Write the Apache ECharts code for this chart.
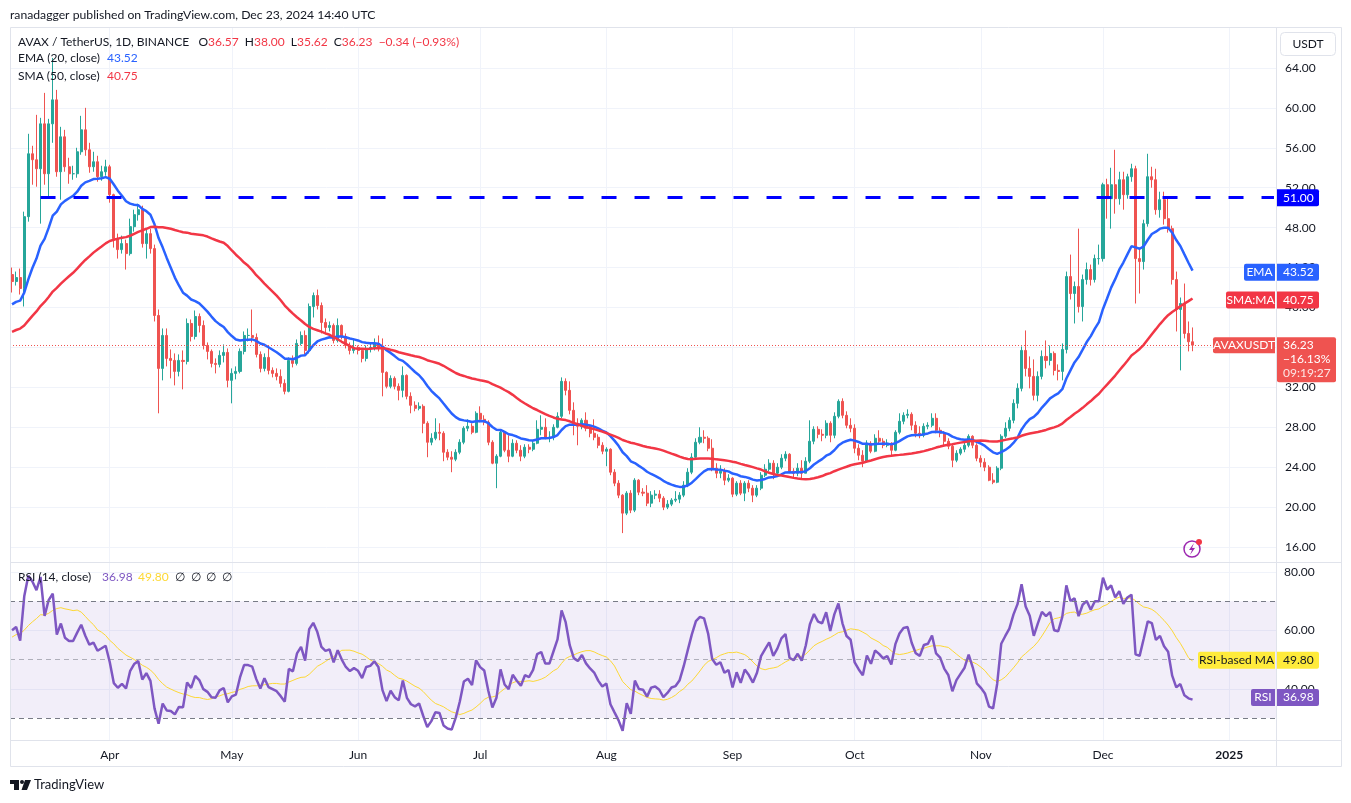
<!DOCTYPE html>
<html lang="en">
<head>
<meta charset="UTF-8">
<title>AVAX / TetherUS, 1D, BINANCE</title>
<script src="https://cdn.jsdelivr.net/npm/echarts@latest/dist/echarts.min.js"></script>
<style>
  html, body { margin: 0; padding: 0; background: #fff; }
  #chart { width: 1351px; height: 803px; }
</style>
</head>
<body>
<div id="chart"></div>
<script>
  /* ---------- data (daily, 2024-03-08 .. 2024-12-23) ---------- */
  // closes before the visible range, only used to warm up EMA / SMA / RSI
  const warmupCloses = [
    35.0, 36.8, 38.5, 39.5, 38.0, 36.5, 35.5, 35.8, 35.2, 34.5, 35.0,
    34.1, 34.7, 33.6, 31.3, 30.5, 31.7, 31.5, 33.0, 33.5,
    33.8, 34.9, 36.3, 34.7, 35.5, 35.9, 35.2, 34.6, 35.3, 36.1,
    35.8, 37.5, 38.8, 38.2, 39.3, 40.9, 40.1, 42.2, 42.0, 41.2,
    39.6, 40.2, 39.0, 39.2, 37.5, 37.2, 36.4, 37.6, 38.3, 39.0,
    39.6, 40.2, 40.0, 40.6, 42.4, 41.8, 41.0, 39.0, 41.6, 43.3
  ];
  const firstOpen = 43.3;

  const closes = [
    // Mar
    42.6, 43.0, 41.9, 49.1, 55.4, 54.8, 53.9, 58.4, 53.4, 58.4, 60.8, 53.6, 57.1, 54.1, 53.4, 53.4, 55.6, 57.8, 55.8, 54.1, 54.6, 53.1, 53.6, 54.1,
    // Apr
    51.3, 46.9, 45.8, 46.4, 45.4, 48.1, 49.3, 49.8, 46.4, 47.4, 45.9, 39.2, 33.9, 37.2, 34.9, 34.7, 33.6, 34.7, 34.6, 38.4, 37.1, 39.1, 38.2, 36.2, 35.6, 34.4, 34.3, 35.2, 35.5, 32.7,
    // May
    33.4, 33.6, 35.6, 37.2, 37.2, 37.0, 35.3, 33.9, 35.0, 33.7, 33.4, 33.1, 32.4, 31.6, 34.7, 34.4, 36.4, 37.2, 35.7, 40.1, 41.2, 40.2, 38.5, 38.0, 38.2, 36.7, 38.2, 37.1, 36.2, 35.7, 36.0,
    // Jun
    35.7, 34.9, 35.9, 36.0, 36.4, 35.9, 33.5, 32.1, 32.9, 32.1, 31.7, 33.2, 31.1, 30.2, 29.9, 30.1, 28.4, 26.5, 26.9, 27.5, 27.4, 25.5, 25.0, 24.8, 25.5, 26.5, 27.9, 28.1, 27.5, 29.4,
    // Jul
    28.8, 28.5, 26.5, 24.4, 25.1, 27.5, 25.7, 25.1, 26.4, 25.7, 25.1, 26.0, 25.8, 26.4, 27.8, 28.0, 27.0, 27.0, 28.0, 29.1, 32.6, 31.7, 29.7, 28.4, 28.1, 28.7, 27.9, 27.4, 27.0, 26.2, 25.6,
    // Aug
    25.8, 23.5, 22.4, 21.2, 19.4, 21.4, 19.7, 22.7, 21.5, 21.4, 20.4, 21.2, 21.3, 20.9, 20.0, 20.3, 20.7, 20.8, 21.2, 22.2, 23.5, 25.0, 26.5, 27.0, 26.9, 25.9, 23.9, 23.4, 23.6, 22.7, 22.9,
    // Sep
    21.3, 22.4, 21.4, 22.4, 21.9, 21.2, 21.9, 23.2, 23.8, 24.4, 23.4, 24.0, 24.9, 25.3, 23.6, 23.4, 23.9, 23.4, 24.6, 26.6, 27.8, 27.3, 27.2, 28.4, 27.2, 29.1, 30.6, 29.2, 28.2, 27.9,
    // Oct
    25.9, 25.2, 24.6, 26.4, 25.6, 26.9, 26.6, 26.2, 26.4, 25.7, 27.5, 28.6, 29.2, 29.3, 28.2, 27.4, 27.2, 28.1, 28.2, 28.9, 27.7, 27.4, 26.6, 26.1, 24.7, 25.4, 25.8, 26.2, 27.1, 26.2, 24.9,
    // Nov
    24.5, 24.0, 22.7, 22.5, 23.9, 27.1, 27.9, 28.7, 30.4, 31.9, 35.7, 33.9, 33.1, 31.2, 33.1, 35.1, 34.7, 35.4, 33.7, 33.6, 35.8, 43.1, 41.4, 42.1, 40.1, 42.8, 43.8, 42.8, 44.9, 44.9,
    // Dec
    52.3, 50.9, 52.3, 50.9, 52.8, 51.3, 53.1, 53.9, 44.9, 44.6, 48.4, 53.1, 52.8, 49.8, 50.8, 48.9, 47.9, 42.8, 39.8, 40.4, 37.4, 36.57, 36.23
  ];

  const highs = [
    44.0, 43.6, 43.9, 49.6, 57.4, 56.2, 59.3, 59.0, 61.5, 58.9, 65.0, 61.8, 58.1, 57.8, 55.0, 54.2, 56.0, 59.2, 60.0, 56.5, 55.6, 55.2, 54.2, 54.8,
    54.3, 51.4, 47.4, 47.2, 46.8, 48.9, 49.8, 50.4, 50.2, 47.9, 47.9, 46.3, 39.8, 37.9, 37.9, 35.8, 35.4, 35.3, 35.7, 38.9, 38.8, 39.7, 39.4, 38.7, 36.5, 35.8, 34.9, 35.7, 36.3, 35.9,
    33.9, 34.1, 35.9, 37.6, 37.9, 39.8, 37.4, 35.6, 35.4, 36.2, 34.0, 33.9, 33.8, 32.8, 35.0, 35.2, 36.8, 37.6, 37.7, 40.4, 41.5, 41.8, 40.5, 38.9, 38.6, 38.4, 38.9, 38.3, 37.4, 36.5, 36.9,
    36.2, 35.9, 36.2, 36.4, 36.9, 37.2, 36.9, 33.6, 33.2, 33.1, 32.4, 34.1, 33.3, 31.5, 30.6, 30.5, 30.3, 28.6, 27.4, 28.9, 28.4, 27.6, 25.8, 25.6, 25.8, 26.8, 28.1, 28.8, 28.4, 29.6,
    30.1, 29.2, 28.7, 26.7, 25.3, 27.7, 27.6, 27.2, 26.8, 26.7, 26.2, 26.3, 26.3, 26.7, 28.7, 29.2, 28.9, 27.6, 28.3, 29.5, 33.0, 32.9, 32.6, 30.5, 28.9, 28.9, 29.5, 28.2, 28.8, 27.3, 26.5,
    26.0, 25.9, 23.8, 22.7, 21.3, 21.6, 21.7, 22.9, 22.8, 21.9, 22.2, 21.6, 21.7, 21.7, 21.1, 20.7, 20.9, 21.6, 21.5, 22.6, 23.9, 25.4, 26.9, 28.0, 27.7, 27.1, 26.8, 24.4, 24.2, 23.9, 23.3,
    23.0, 22.6, 22.7, 22.6, 22.7, 22.2, 22.2, 23.5, 24.3, 24.8, 24.7, 24.4, 25.3, 25.6, 25.4, 23.9, 24.4, 24.7, 25.0, 28.7, 28.1, 28.1, 27.8, 28.7, 28.6, 29.5, 30.8, 30.9, 29.6, 28.9,
    28.3, 26.3, 25.7, 26.7, 26.6, 27.3, 27.7, 26.9, 26.8, 26.5, 27.7, 29.4, 29.5, 29.8, 29.5, 28.6, 28.1, 28.4, 28.5, 29.4, 29.4, 28.0, 27.6, 26.9, 26.4, 25.7, 26.0, 26.5, 27.3, 27.2, 26.4,
    25.2, 24.9, 24.2, 23.4, 24.1, 27.3, 28.5, 29.0, 30.8, 32.4, 36.1, 37.7, 35.1, 34.8, 33.6, 35.7, 36.7, 36.2, 35.6, 34.3, 36.4, 43.6, 45.3, 42.6, 47.9, 43.3, 44.5, 44.3, 45.3, 46.3,
    52.5, 52.9, 54.0, 55.8, 53.6, 53.6, 53.4, 54.4, 54.2, 46.0, 48.8, 55.4, 54.1, 53.9, 51.6, 51.6, 50.9, 48.2, 43.6, 41.0, 42.4, 38.6, 38.0
  ];

  const lows = [
    41.5, 42.2, 41.3, 40.1, 48.6, 52.3, 52.1, 48.4, 52.3, 50.9, 56.5, 53.1, 50.8, 53.6, 52.4, 52.8, 53.0, 55.3, 55.2, 53.5, 53.6, 52.6, 52.7, 53.2,
    50.5, 46.0, 44.9, 45.4, 43.8, 45.2, 47.6, 48.7, 46.0, 44.9, 45.4, 38.6, 29.4, 32.7, 34.1, 32.9, 32.2, 33.1, 31.8, 34.3, 36.6, 36.8, 37.5, 35.8, 34.8, 34.0, 33.4, 34.0, 34.5, 32.0,
    30.4, 32.8, 33.4, 35.3, 36.6, 36.5, 35.0, 33.5, 33.6, 33.3, 33.0, 32.7, 32.0, 31.3, 31.5, 34.0, 34.2, 36.2, 35.3, 35.4, 39.0, 39.8, 37.4, 37.3, 37.6, 36.4, 36.5, 36.8, 35.9, 35.3, 35.4,
    35.3, 34.5, 34.6, 35.5, 35.7, 35.6, 31.1, 31.9, 31.9, 31.8, 30.7, 31.0, 30.8, 29.4, 29.6, 29.7, 27.4, 25.0, 26.2, 26.7, 26.7, 24.6, 24.7, 23.5, 24.6, 25.3, 26.3, 27.6, 27.3, 27.4,
    28.5, 28.2, 26.2, 24.3, 21.9, 25.0, 25.5, 24.5, 25.0, 25.4, 24.6, 24.9, 25.4, 25.6, 26.3, 27.2, 26.8, 26.5, 26.7, 27.9, 28.9, 31.2, 29.3, 27.2, 26.2, 27.8, 27.6, 27.0, 26.7, 25.9, 25.3,
    24.1, 23.2, 22.1, 20.9, 17.4, 19.2, 19.4, 19.5, 21.2, 21.1, 20.1, 20.0, 20.8, 20.5, 19.7, 19.8, 20.1, 20.5, 20.4, 21.0, 22.0, 23.3, 24.8, 26.3, 26.4, 25.6, 23.6, 22.9, 22.9, 22.2, 22.5,
    21.0, 21.1, 21.2, 20.6, 21.5, 20.5, 21.0, 21.7, 23.0, 23.6, 22.8, 23.2, 23.8, 24.6, 23.4, 22.9, 23.1, 22.9, 23.4, 24.4, 26.3, 26.9, 26.6, 26.9, 26.5, 26.9, 28.9, 28.9, 27.9, 27.5,
    25.4, 24.7, 24.0, 24.5, 25.4, 25.5, 26.3, 25.9, 26.0, 25.1, 25.6, 27.3, 28.3, 28.9, 27.7, 27.0, 26.9, 27.0, 27.8, 28.0, 27.4, 27.0, 26.2, 25.8, 24.0, 24.5, 25.2, 25.5, 26.0, 25.9, 24.6,
    24.0, 23.6, 22.6, 22.3, 22.4, 23.7, 26.9, 27.6, 28.4, 29.9, 31.6, 33.1, 31.9, 30.7, 30.6, 32.8, 33.9, 34.2, 33.2, 32.7, 32.7, 35.4, 40.8, 38.4, 39.5, 38.6, 42.3, 42.2, 42.5, 44.3,
    44.6, 48.9, 47.9, 49.4, 50.3, 49.8, 50.9, 52.6, 40.4, 41.4, 43.8, 48.1, 52.0, 49.3, 49.0, 48.3, 47.5, 42.3, 37.6, 33.7, 36.9, 35.6, 35.62
  ];

  const resistance = 51.0;           // horizontal level drawn by the author
  const resistanceFrom = '2024-03-15';

  const monthTicks = ['2024-04-01', '2024-05-01', '2024-06-01', '2024-07-01', '2024-08-01',
                      '2024-09-01', '2024-10-01', '2024-11-01', '2024-12-01', '2025-01-01'];
  const monthNames = ['Apr', 'May', 'Jun', 'Jul', 'Aug', 'Sep', 'Oct', 'Nov', 'Dec', '2025'];

  // values printed in the legend / axis tags
  const lastEma = 43.52, lastSma = 40.75, lastRsi = 36.98, lastRsiMa = 49.80;

  /* ---------- build categories (calendar days, with empty space to the right) ---------- */
  const dayCount = 311;
  const firstDay = Date.UTC(2024, 2, 8);
  const dates = [];
  for (let i = 0; i < dayCount; i++) {
    dates.push(new Date(firstDay + i * 86400000).toISOString().slice(0, 10));
  }
  const tickName = {};
  monthTicks.forEach((d, i) => { tickName[d] = monthNames[i]; });
  const isTick = (idx, val) => tickName[val] !== undefined;

  /* ---------- indicators ---------- */
  function ema(src, n) {
    const k = 2 / (n + 1);
    const out = [];
    let prev = src[0];
    src.forEach((v, i) => { prev = i === 0 ? v : v * k + prev * (1 - k); out.push(prev); });
    return out;
  }
  function sma(src, n) {
    const out = [];
    for (let i = 0; i < src.length; i++) {
      if (i < n - 1 || src[i - n + 1] == null) { out.push(null); continue; }
      let s = 0;
      for (let j = i - n + 1; j <= i; j++) s += src[j];
      out.push(s / n);
    }
    return out;
  }
  function rsi(src, n) {
    const out = [null];
    let ag = 0, al = 0;
    for (let i = 1; i < src.length; i++) {
      const ch = src[i] - src[i - 1];
      const g = Math.max(ch, 0), l = Math.max(-ch, 0);
      if (i <= n) {
        ag += g / n; al += l / n;
        out.push(i === n ? 100 - 100 / (1 + ag / al) : null);
      } else {
        ag = (ag * (n - 1) + g) / n;
        al = (al * (n - 1) + l) / n;
        out.push(al === 0 ? 100 : 100 - 100 / (1 + ag / al));
      }
    }
    return out;
  }

  const allCloses = warmupCloses.concat(closes);
  const skip = warmupCloses.length;
  const round = v => (v == null ? null : +v.toFixed(3));
  const emaLine = ema(allCloses, 20).slice(skip).map(round);
  const smaLine = sma(allCloses, 50).slice(skip).map(round);
  const rsiAll = rsi(allCloses, 14);
  const rsiLine = rsiAll.slice(skip).map(round);
  const rsiMaLine = sma(rsiAll, 14).slice(skip).map(round);

  const candles = closes.map((c, i) => [i === 0 ? firstOpen : closes[i - 1], c, lows[i], highs[i]]);

  /* ---------- chart ---------- */
  const FONT = 'Lato, "Noto Sans", sans-serif';
  const TEXT = '#131722';
  const UP = '#26a69a', DOWN = '#ef5350';
  const AXIS_X = 1276;

  const chart = echarts.init(document.getElementById('chart'));

  const option = {
    animation: false,
    backgroundColor: '#ffffff',
    textStyle: { fontFamily: FONT },
    grid: [
      { left: 10, right: 1351 - AXIS_X, top: 28, height: 559 },        // price pane (12..68)
      { left: 10, right: 1351 - AXIS_X, top: 513.6, height: 233.6 },   // RSI pane (20..100)
      { left: 10, right: 1351 - AXIS_X, top: 27, height: 713 }         // time scale + vertical grid
    ],
    xAxis: [
      { type: 'category', gridIndex: 0, data: dates, show: false },
      { type: 'category', gridIndex: 1, data: dates, show: false },
      {
        type: 'category', gridIndex: 2, data: dates,
        axisLine: { show: false }, axisTick: { show: false },
        axisLabel: {
          interval: isTick, margin: 9, color: TEXT, fontSize: 12, fontFamily: FONT,
          formatter: v => (tickName[v] === '2025' ? '{y|2025}' : (tickName[v] || '')),
          rich: { y: { fontWeight: 'bold', fontSize: 12, color: TEXT, fontFamily: FONT } }
        },
        splitLine: { show: true, interval: isTick, alignWithLabel: true, lineStyle: { color: '#f0f3fa', width: 1 } }
      }
    ],
    yAxis: [
      {
        type: 'value', gridIndex: 0, position: 'right', min: 12, max: 68, interval: 4,
        axisLine: { show: false }, axisTick: { show: false },
        axisLabel: {
          color: TEXT, fontSize: 12, fontFamily: FONT, margin: 9,
          formatter: v => (v <= 12 || v >= 68 ? '' : v.toFixed(2))
        },
        splitLine: { showMinLine: false, showMaxLine: false, lineStyle: { color: '#f0f3fa' } }
      },
      {
        type: 'value', gridIndex: 1, position: 'right', min: 20, max: 100, interval: 20,
        axisLine: { show: false }, axisTick: { show: false },
        axisLabel: {
          color: TEXT, fontSize: 12, fontFamily: FONT, margin: 8,
          formatter: v => (v <= 20 || v >= 100 ? '' : v.toFixed(2))
        },
        splitLine: { showMinLine: false, showMaxLine: false, lineStyle: { color: '#f0f3fa' } }
      },
      { type: 'value', gridIndex: 2, show: false }
    ],
    series: [
      {
        name: 'AVAXUSDT', type: 'candlestick', xAxisIndex: 0, yAxisIndex: 0,
        data: candles, barWidth: '62%',
        itemStyle: { color: UP, color0: DOWN, borderColor: UP, borderColor0: DOWN, borderWidth: 1 },
        markLine: {
          silent: true, symbol: 'none', animation: false,
          label: { show: false },
          data: [
            { yAxis: closes[closes.length - 1], lineStyle: { type: [1, 2], color: DOWN, width: 1 } },
            [
              { coord: [resistanceFrom, resistance], lineStyle: { type: [15, 18], color: '#0000ff', width: 3 } },
              { coord: [dates[dayCount - 1], resistance] }
            ]
          ]
        }
      },
      {
        name: 'EMA 20', type: 'line', xAxisIndex: 0, yAxisIndex: 0, data: emaLine,
        showSymbol: false, z: 3, lineStyle: { color: '#2962ff', width: 2.5 }
      },
      {
        name: 'SMA 50', type: 'line', xAxisIndex: 0, yAxisIndex: 0, data: smaLine,
        showSymbol: false, z: 3, lineStyle: { color: '#f23645', width: 2.5 }
      },
      {
        name: 'RSI-based MA', type: 'line', xAxisIndex: 1, yAxisIndex: 1, data: rsiMaLine,
        showSymbol: false, z: 3, lineStyle: { color: '#fdd835', width: 1 }
      },
      {
        name: 'RSI', type: 'line', xAxisIndex: 1, yAxisIndex: 1, data: rsiLine,
        showSymbol: false, z: 4, clip: false, lineStyle: { color: '#7e57c2', width: 2.5 },
        markArea: {
          silent: true,
          itemStyle: { color: 'rgba(126, 87, 194, 0.1)' },
          data: [[{ yAxis: 30 }, { yAxis: 70 }]]
        },
        markLine: {
          silent: true, symbol: 'none', animation: false, label: { show: false },
          data: [
            { yAxis: 70, lineStyle: { type: [5, 4], color: '#787b86', width: 1 } },
            { yAxis: 50, lineStyle: { type: [5, 4], color: 'rgba(120,123,134,0.55)', width: 1 } },
            { yAxis: 30, lineStyle: { type: [5, 4], color: '#787b86', width: 1 } }
          ]
        }
      }
    ]
  };
  chart.setOption(option);

  /* ---------- overlay: frame, legend texts, axis tags ---------- */
  const py = v => chart.convertToPixel({ yAxisIndex: 0 }, v);
  const ry = v => chart.convertToPixel({ yAxisIndex: 1 }, v);

  function text(x, y, str, fill, size, align) {
    return {
      type: 'text', z: 101,
      style: { x, y, text: str, fill, font: (size || 12) + 'px ' + FONT, textAlign: align || 'left', textVerticalAlign: 'middle' }
    };
  }
  function rect(x, y, w, h, fill, r) {
    return { type: 'rect', z: 100, shape: { x, y, width: w, height: h, r: r || 0 }, style: { fill } };
  }
  function line(x1, y1, x2, y2, color) {
    return { type: 'line', z: 99, shape: { x1, y1, x2, y2 }, style: { stroke: color || '#e0e3eb', lineWidth: 1 } };
  }
  // tag on the price scale: optional name part left of the scale, value part on it
  function tag(y, name, nameW, value, fill, color) {
    const out = [];
    if (name) {
      out.push(rect(AXIS_X - 1 - nameW, y - 8.5, nameW, 17, fill, [2, 0, 0, 2]));
      out.push(text(AXIS_X - 1 - nameW / 2, y, name, color, 12, 'center'));
    }
    out.push(rect(AXIS_X + 1, y - 8.5, 42, 17, fill, [0, 2, 2, 0]));
    out.push(text(AXIS_X + 7, y, value, color, 12));
    return out;
  }

  const g = [];
  // frame
  g.push({ type: 'rect', z: 99, shape: { x: 10.5, y: 27.5, width: 1331, height: 739 }, style: { fill: 'none', stroke: '#e0e3eb', lineWidth: 1 } });
  g.push(line(AXIS_X + 0.5, 27, AXIS_X + 0.5, 767));
  g.push(line(10, 562.5, 1342, 562.5));
  g.push(line(10, 740.5, 1342, 740.5));

  // published line
  g.push(text(10, 15, 'ranadagger published on TradingView.com, Dec 23, 2024 14:40 UTC', TEXT, 12.2));

  // legend: symbol row as one rich text so the OHLC values never collide with the title
  const red = '#f23645';
  g.push({
    type: 'text', z: 101,
    style: {
      x: 18, y: 42, textVerticalAlign: 'middle', fill: TEXT, font: '12px ' + FONT,
      text: 'AVAX / TetherUS, 1D, BINANCE   O{r|36.57}  H{r|38.00}  L{r|35.62}  C{r|36.23}  {r|\u22120.34 (\u22120.93%)}',
      rich: { r: { fill: red, font: '12px ' + FONT } }
    }
  });
  g.push(text(18, 58, 'EMA (20, close)', TEXT, 12));
  g.push(text(107, 58, lastEma.toFixed(2), '#2962ff', 12));
  g.push(text(18, 76, 'SMA (50, close)', TEXT, 12));
  g.push(text(107, 76, lastSma.toFixed(2), red, 12));

  g.push(text(18, 577, 'RSI (14, close)', TEXT, 12));
  g.push(text(102, 577, lastRsi.toFixed(2), '#7e57c2', 12));
  g.push(text(138, 577, lastRsiMa.toFixed(2), '#fdd835', 12));
  [175, 191, 206, 222].forEach(x => g.push(text(x, 577, '\u2205', TEXT, 12)));

  // currency box
  g.push({ type: 'rect', z: 100, shape: { x: 1280.5, y: 32.5, width: 55, height: 23, r: 4 }, style: { fill: '#fff', stroke: '#e0e3eb', lineWidth: 1 } });
  g.push(text(1308, 44, 'USDT', TEXT, 12, 'center'));

  // price scale tags
  g.push(...tag(py(resistance), null, 0, resistance.toFixed(2), '#0000ff', '#fff'));
  g.push(...tag(py(lastEma), 'EMA', 31, lastEma.toFixed(2), '#2962ff', '#fff'));
  g.push(...tag(py(lastSma), 'SMA:MA', 49, lastSma.toFixed(2), red, '#fff'));
  const yp = py(closes[closes.length - 1]);
  g.push(rect(AXIS_X - 63, yp - 8, 62, 16, DOWN, [2, 0, 0, 2]));
  g.push(text(AXIS_X - 32, yp, 'AVAXUSDT', '#fff', 12, 'center'));
  g.push(rect(AXIS_X + 1, yp - 8, 59, 45, DOWN, [0, 2, 2, 2]));
  g.push(text(AXIS_X + 7, yp, closes[closes.length - 1].toFixed(2), '#fff', 12));
  g.push(text(AXIS_X + 7, yp + 14, '\u221216.13%', '#fff', 12));
  g.push(text(AXIS_X + 7, yp + 28, '09:19:27', 'rgba(255,255,255,0.85)', 12));

  // RSI scale tags
  g.push(...tag(ry(lastRsiMa), 'RSI-based MA', 77, lastRsiMa.toFixed(2), '#ffeb3b', TEXT));
  g.push(...tag(ry(lastRsi), 'RSI', 24, lastRsi.toFixed(2), '#7e57c2', '#fff'));

  // alert icon
  g.push({ type: 'circle', z: 100, shape: { cx: 1192, cy: 549, r: 8 }, style: { fill: 'none', stroke: '#9c27b0', lineWidth: 1.5 } });
  g.push({ type: 'polygon', z: 101, shape: { points: [[1194, 543], [1189, 550], [1192, 550], [1190, 555], [1195, 548], [1192, 548]] }, style: { fill: '#9c27b0' } });
  g.push({ type: 'circle', z: 102, shape: { cx: 1199, cy: 542, r: 3 }, style: { fill: '#f23645' } });

  // TradingView logo
  g.push(rect(10, 780, 9, 4, TEXT));
  g.push(rect(14, 780, 5, 10, TEXT));
  g.push({ type: 'circle', z: 100, shape: { cx: 22, cy: 782, r: 2 }, style: { fill: TEXT } });
  g.push({ type: 'polygon', z: 100, shape: { points: [[25, 780], [31, 780], [27, 790], [21.5, 790]] }, style: { fill: TEXT } });
  g.push(text(34, 785, 'TradingView', TEXT, 13));

  chart.setOption({ graphic: g });
</script>
</body>
</html>
